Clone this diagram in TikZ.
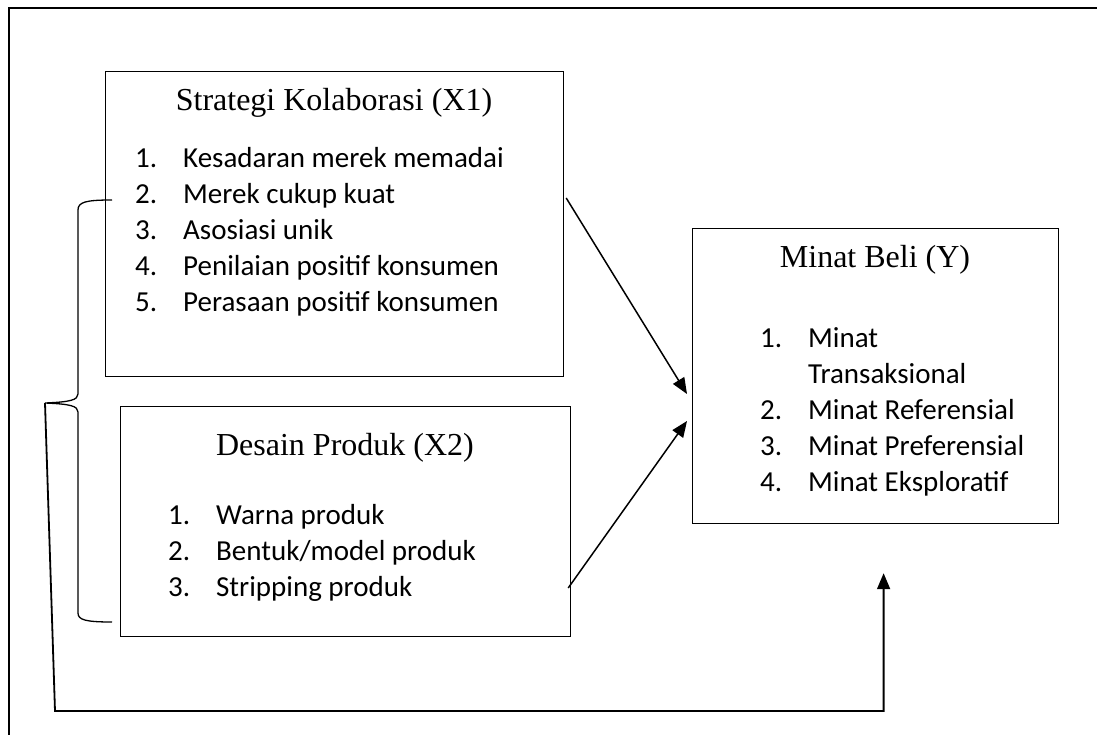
\documentclass[tikz,border=0pt]{standalone}
\usepackage{fontspec}
\setmainfont{Liberation Serif}
\newfontfamily\listfont{Carlito}
\usetikzlibrary{arrows.meta,calc}

\newcommand{\itm}[1]{\makebox[48pt][l]{#1}}

\begin{document}
\begin{tikzpicture}[
  x=1pt, y=-1pt,
  varbox/.style={rectangle, draw, line width=1.2pt, anchor=north west, inner sep=0pt},
  title/.style={font=\fontsize{32}{38}\selectfont, anchor=base, inner sep=0pt},
  items/.style={font=\listfont\fontsize{29}{36}\selectfont, align=left,
                anchor=north west, inner sep=0pt},
  arr/.style={-{Triangle[length=16pt,width=13pt]}, line width=1.5pt},
  frame/.style={line width=2.5pt},
  brace/.style={line width=1.3pt},
]
\useasboundingbox (0,0) rectangle (1097,735);
\clip (0,0) rectangle (1097,735);

% outer frame
\draw[frame] (1110,8) -- (9,8) -- (9,750);

% variable boxes
\node[varbox, minimum width=458pt, minimum height=305pt] (X1) at (105,71) {};
\node[varbox, minimum width=450pt, minimum height=230pt] (X2) at (120,406) {};
\node[varbox, minimum width=366pt, minimum height=295pt] (Y) at (692,228) {};

% titles
\node[title] (X1title) at (334,111) {Strategi Kolaborasi (X1)};
\node[title] (X2title) at (345,455) {Desain Produk (X2)};
\node[title] (Ytitle) at (875,268) {Minat Beli (Y)};

% indicators
\node[items] (X1items) at (135,147)
  {\itm{1.}Kesadaran merek memadai\\
   \itm{2.}Merek cukup kuat\\
   \itm{3.}Asosiasi unik\\
   \itm{4.}Penilaian positif konsumen\\
   \itm{5.}Perasaan positif konsumen};
\node[items] (X2items) at (168,504)
  {\itm{1.}Warna produk\\
   \itm{2.}Bentuk/model produk\\
   \itm{3.}Stripping produk};
\node[items] (Yitems) at (760,327)
  {\itm{1.}Minat\\
   \itm{}Transaksional\\
   \itm{2.}Minat Referensial\\
   \itm{3.}Minat Preferensial\\
   \itm{4.}Minat Eksploratif};

% partial effects
\draw[arr] ($(X1.north east)+(2,127)$) -- ($(Y.north west)+(-5,166)$);
\draw[arr] ($(X2.north east)+(-3,182)$) -- ($(Y.north west)+(-5,193)$);

% brace around X1 and X2
\coordinate (brtip) at (45,403);
\draw[brace] (112,200) .. controls (86,200) and (78,202) .. (78,210)
  -- (78,394) .. controls (78,400) and (70,402) .. (brtip)
  .. controls (70,404) and (78,406) .. (78,412)
  -- (78,613) .. controls (78,620) and (86,622) .. (112,622);

% simultaneous effect
\coordinate (yin) at ($(Y.south)+(8,49)$);
\draw[arr, line width=1.8pt] (brtip) -- (55,711) -- (yin |- 0,711) -- (yin);

\end{tikzpicture}
\end{document}
